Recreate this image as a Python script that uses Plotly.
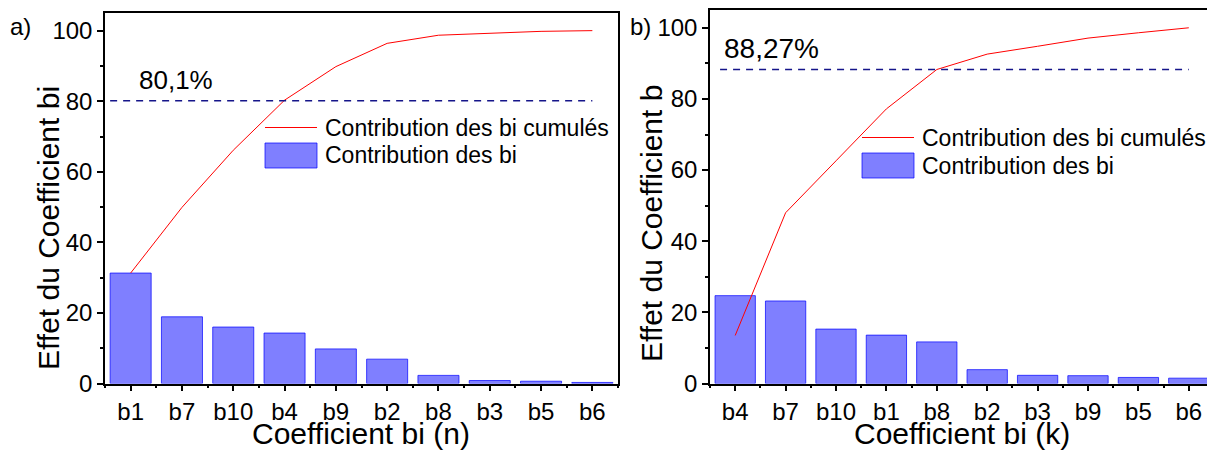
import plotly.graph_objects as go

# panel a) - coefficients bi (n)
coef_a = ["b1", "b7", "b10", "b4", "b9", "b2", "b8", "b3", "b5", "b6"]
contrib_a = [31.3, 18.9, 16.0, 14.3, 9.8, 6.9, 2.3, 0.85, 0.65, 0.3]
cumul_a = [31.3, 49.9, 66.1, 80.3, 89.8, 96.4, 98.7, 99.3, 99.8, 100.0]
seuil_a = 80.1

# panel b) - coefficients bi (k)
coef_b = ["b4", "b7", "b10", "b1", "b8", "b2", "b3", "b9", "b5", "b6"]
contrib_b = [24.7, 23.2, 15.3, 13.6, 11.7, 3.9, 2.3, 2.2, 1.7, 1.5]
cumul_b = [13.5, 48.0, 62.6, 77.2, 88.27, 92.6, 94.8, 97.1, 98.6, 100.0]
seuil_b = 88.27

W, H = 1215, 450
OFF = 8  # the page body has an 8px margin, positions below are screen pixels
FONT = "Liberation Sans, Arial, sans-serif"
BAR_FILL = "rgba(0,0,255,0.5)"
BAR_EDGE = "rgba(0,0,255,0.7)"


def px(x):
    return (x - OFF) / W


def py(y):
    return 1 - (y - OFF) / H


fig = go.Figure()

# line first so that the translucent bars sit on top of it
fig.add_trace(go.Scatter(x=list(range(len(coef_a))), y=cumul_a, mode="lines",
                         line=dict(color="red", width=1), name="Contribution des bi cumulés",
                         xaxis="x", yaxis="y"))
fig.add_trace(go.Bar(x=list(range(len(coef_a))), y=contrib_a, width=0.8,
                     marker=dict(color=BAR_FILL, line=dict(color=BAR_EDGE, width=1)),
                     name="Contribution des bi", xaxis="x", yaxis="y"))
fig.add_trace(go.Scatter(x=list(range(len(coef_b))), y=cumul_b, mode="lines",
                         line=dict(color="red", width=1), name="Contribution des bi cumulés",
                         xaxis="x2", yaxis="y2"))
fig.add_trace(go.Bar(x=list(range(len(coef_b))), y=contrib_b, width=0.8,
                     marker=dict(color=BAR_FILL, line=dict(color=BAR_EDGE, width=1)),
                     name="Contribution des bi", xaxis="x2", yaxis="y2"))


def xaxis_cfg(labels, dom):
    n = len(labels)
    return dict(domain=dom, range=[-0.5, n - 0.5], tickmode="array",
                tickvals=list(range(n)), ticktext=labels, ticks="outside", ticklen=6,
                tickwidth=1.5, tickcolor="black",
                minor=dict(tickvals=[i - 0.5 for i in range(n + 1)], ticks="outside",
                           ticklen=3, tickwidth=1.5, tickcolor="black"),
                showline=True, linecolor="black", linewidth=1.5, mirror=True,
                showgrid=False, zeroline=False, automargin=False,
                tickfont=dict(size=24, color="black", family=FONT))


def yaxis_cfg(anchor, dom):
    return dict(anchor=anchor, domain=dom, range=[0, 105], tickmode="linear", tick0=0,
                dtick=20, ticks="outside", ticklen=6, tickwidth=1.5, tickcolor="black",
                minor=dict(dtick=10, ticks="outside", ticklen=3, tickwidth=1.5,
                           tickcolor="black"),
                showline=True, linecolor="black", linewidth=1.5, mirror=True,
                showgrid=False, zeroline=False, automargin=False,
                tickfont=dict(size=24, color="black", family=FONT))


fig.update_layout(
    width=W, height=H,
    margin=dict(l=0, r=0, t=0, b=0),
    paper_bgcolor="white", plot_bgcolor="white",
    showlegend=False, barmode="overlay",
    font=dict(family=FONT, color="black"),
    xaxis=dict(anchor="y", **xaxis_cfg(coef_a, [px(105), px(618)])),
    yaxis=yaxis_cfg("x", [py(383.5), py(13)]),
    xaxis2=dict(anchor="y2", **xaxis_cfg(coef_b, [px(710), px(1214)])),
    yaxis2=yaxis_cfg("x2", [py(383.5), py(10)]),
)

# seuils en pointillés
fig.add_shape(type="line", xref="x", yref="y", x0=-0.4, x1=9, y0=seuil_a, y1=seuil_a,
              line=dict(color="#15158a", width=1.5, dash="7px,6px"))
fig.add_shape(type="line", xref="x2", yref="y2", x0=-0.3, x1=9, y0=seuil_b, y1=seuil_b,
              line=dict(color="#15158a", width=1.5, dash="7px,6px"))

ann = []
ann.append(dict(text="80,1%", xref="paper", yref="paper", x=px(137), y=py(80),
                xanchor="left", yanchor="middle", showarrow=False, font=dict(size=26)))
ann.append(dict(text="88,27%", xref="paper", yref="paper", x=px(722), y=py(48),
                xanchor="left", yanchor="middle", showarrow=False, font=dict(size=28)))
ann.append(dict(text="a)", xref="paper", yref="paper", x=px(8), y=py(26),
                xanchor="left", yanchor="middle", showarrow=False, font=dict(size=24)))
ann.append(dict(text="b)", xref="paper", yref="paper", x=px(628), y=py(26),
                xanchor="left", yanchor="middle", showarrow=False, font=dict(size=24)))
ann.append(dict(text="Coefficient bi (n)", xref="paper", yref="paper", x=px(361), y=py(433),
                xanchor="center", yanchor="middle", showarrow=False, font=dict(size=30)))
ann.append(dict(text="Coefficient bi (k)", xref="paper", yref="paper", x=px(962), y=py(433),
                xanchor="center", yanchor="middle", showarrow=False, font=dict(size=30)))
ann.append(dict(text="Effet du Coefficient bi", xref="paper", yref="paper", x=px(48), y=py(228),
                xanchor="center", yanchor="middle", textangle=-90, showarrow=False,
                font=dict(size=30)))
ann.append(dict(text="Effet du Coefficient b", xref="paper", yref="paper", x=px(651), y=py(224),
                xanchor="center", yanchor="middle", textangle=-90, showarrow=False,
                font=dict(size=30)))

# légendes dessinées à la main
for lx, ly1, ly2, rect in [(265, 127.5, 155.5, (143, 168)), (862, 137.5, 166, (153, 178))]:
    fig.add_shape(type="line", xref="paper", yref="paper", x0=px(lx), x1=px(lx + 52),
                  y0=py(ly1), y1=py(ly1), line=dict(color="red", width=1))
    fig.add_shape(type="rect", xref="paper", yref="paper", x0=px(lx), x1=px(lx + 52),
                  y0=py(rect[1]), y1=py(rect[0]), fillcolor=BAR_FILL,
                  line=dict(color=BAR_EDGE, width=1))
    ann.append(dict(text="Contribution des bi cumulés", xref="paper", yref="paper",
                    x=px(lx + 58), y=py(ly1), xanchor="left", yanchor="middle",
                    showarrow=False, font=dict(size=23)))
    ann.append(dict(text="Contribution des bi", xref="paper", yref="paper",
                    x=px(lx + 58), y=py(ly2), xanchor="left", yanchor="middle",
                    showarrow=False, font=dict(size=23)))

fig.update_layout(annotations=ann)

fig.write_html("out.html")
